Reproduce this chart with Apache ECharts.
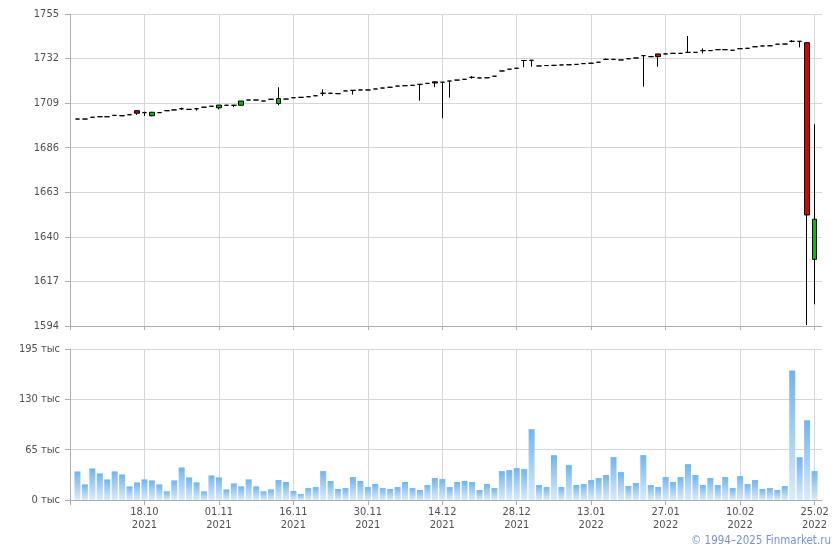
<!DOCTYPE html>
<html><head><meta charset="utf-8">
<script src="https://cdn.jsdelivr.net/npm/echarts@6/dist/echarts.min.js"></script>
<style>html,body{margin:0;padding:0;background:#fff}#c{width:840px;height:550px}</style>
</head><body><div id="c"></div>
<script>
// ---- data ----
const dates = [
 '05.10.2021','06.10.2021','07.10.2021','08.10.2021','11.10.2021','12.10.2021','13.10.2021','14.10.2021','15.10.2021','18.10.2021',
 '19.10.2021','20.10.2021','21.10.2021','22.10.2021','25.10.2021','26.10.2021','27.10.2021','28.10.2021','29.10.2021','01.11.2021',
 '02.11.2021','03.11.2021','05.11.2021','08.11.2021','09.11.2021','10.11.2021','11.11.2021','12.11.2021','15.11.2021','16.11.2021',
 '17.11.2021','18.11.2021','19.11.2021','22.11.2021','23.11.2021','24.11.2021','25.11.2021','26.11.2021','29.11.2021','30.11.2021',
 '01.12.2021','02.12.2021','03.12.2021','06.12.2021','07.12.2021','08.12.2021','09.12.2021','10.12.2021','13.12.2021','14.12.2021',
 '15.12.2021','16.12.2021','17.12.2021','20.12.2021','21.12.2021','22.12.2021','23.12.2021','24.12.2021','27.12.2021','28.12.2021',
 '29.12.2021','30.12.2021','03.01.2022','04.01.2022','05.01.2022','06.01.2022','10.01.2022','11.01.2022','12.01.2022','13.01.2022',
 '14.01.2022','17.01.2022','18.01.2022','19.01.2022','20.01.2022','21.01.2022','24.01.2022','25.01.2022','26.01.2022','27.01.2022',
 '28.01.2022','31.01.2022','01.02.2022','02.02.2022','03.02.2022','04.02.2022','07.02.2022','08.02.2022','09.02.2022','10.02.2022',
 '11.02.2022','14.02.2022','15.02.2022','16.02.2022','17.02.2022','18.02.2022','21.02.2022','22.02.2022','24.02.2022','25.02.2022'
];
// [open, close, low, high]
const candles = [
 [1700.8,1700.8,1700.8,1700.8],[1700.8,1700.8,1700.8,1700.8],[1701.7,1701.7,1701.7,1701.7],[1702.0,1702.0,1702.0,1702.0],[1702.0,1702.0,1702.0,1702.0],
 [1702.7,1702.7,1702.7,1702.7],[1702.5,1702.5,1702.5,1702.5],[1703.0,1703.0,1703.0,1703.0],[1705.1,1703.8,1703.0,1705.3],[1704.1,1704.1,1702.4,1704.6],
 [1702.5,1704.3,1702.2,1704.5],[1704.1,1704.1,1704.1,1704.1],[1705.1,1705.1,1705.1,1705.1],[1705.5,1705.5,1705.5,1705.5],[1706.1,1706.1,1705.5,1706.7],
 [1705.8,1705.8,1705.8,1705.8],[1706.1,1706.1,1705.1,1706.1],[1706.9,1706.9,1706.9,1706.9],[1707.4,1707.4,1707.4,1707.4],[1706.6,1708.0,1705.8,1708.0],
 [1707.9,1707.9,1707.9,1707.9],[1707.9,1707.9,1706.9,1707.9],[1707.9,1710.1,1707.9,1710.1],[1710.6,1710.6,1710.6,1710.6],[1710.6,1710.6,1710.6,1710.6],
 [1710.1,1710.1,1710.1,1710.1],[1711.0,1711.0,1711.0,1711.0],[1708.8,1711.4,1707.9,1717.2],[1711.1,1711.1,1711.1,1711.1],[1711.8,1711.8,1711.8,1711.8],
 [1712.0,1712.0,1712.0,1712.0],[1712.3,1712.3,1712.3,1712.3],[1712.8,1712.8,1712.8,1712.8],[1714.1,1714.1,1712.7,1716.1],[1714.1,1714.1,1714.1,1714.1],
 [1713.9,1713.9,1713.9,1713.9],[1715.3,1715.3,1715.3,1715.3],[1715.6,1715.6,1713.4,1715.6],[1715.8,1715.8,1715.8,1715.8],[1715.8,1715.8,1715.8,1715.8],
 [1716.3,1716.3,1716.3,1716.3],[1716.8,1716.8,1716.8,1716.8],[1717.2,1717.2,1717.2,1717.2],[1717.8,1717.8,1717.8,1717.8],[1718.0,1718.0,1718.0,1718.0],
 [1718.2,1718.2,1718.2,1718.2],[1718.7,1718.7,1710.3,1718.7],[1719.2,1719.2,1719.2,1719.2],[1720.0,1719.4,1717.2,1720.1],[1719.8,1719.8,1701.2,1719.8],
 [1720.4,1720.4,1711.8,1720.4],[1720.9,1720.9,1720.9,1720.9],[1721.3,1721.3,1721.3,1721.3],[1722.3,1722.3,1721.6,1723.0],[1722.0,1722.0,1722.0,1722.0],
 [1722.1,1722.1,1722.1,1722.1],[1722.9,1722.9,1722.9,1722.9],[1725.6,1725.6,1725.6,1725.6],[1726.5,1726.5,1726.5,1726.5],[1727.0,1727.0,1727.0,1727.0],
 [1731.0,1731.0,1727.5,1731.0],[1731.1,1731.1,1727.8,1731.1],[1728.2,1728.2,1728.2,1728.2],[1728.4,1728.4,1728.4,1728.4],[1728.5,1728.5,1728.5,1728.5],
 [1728.7,1728.7,1728.7,1728.7],[1728.8,1728.8,1728.8,1728.8],[1729.0,1729.0,1729.0,1729.0],[1729.4,1729.4,1729.4,1729.4],[1729.6,1729.6,1729.6,1729.6],
 [1730.1,1730.1,1730.1,1730.1],[1731.6,1731.6,1731.3,1732.0],[1731.6,1731.6,1731.6,1731.6],[1731.3,1731.3,1731.3,1731.3],[1731.9,1731.9,1731.9,1731.9],
 [1732.3,1732.3,1732.3,1732.3],[1733.5,1733.5,1717.5,1733.5],[1733.0,1733.0,1733.0,1733.0],[1734.4,1733.0,1727.8,1734.4],[1734.4,1734.4,1734.4,1734.4],
 [1734.7,1734.7,1734.7,1734.7],[1734.7,1734.7,1734.7,1734.7],[1735.2,1735.2,1735.2,1743.6],[1735.2,1735.2,1735.2,1735.2],[1736.1,1736.1,1734.7,1737.3],
 [1736.1,1736.1,1736.1,1736.1],[1736.6,1736.6,1736.6,1736.6],[1736.6,1736.6,1736.6,1736.6],[1736.3,1736.3,1736.3,1736.3],[1737.1,1737.1,1737.1,1737.1],
 [1737.3,1737.3,1737.3,1737.3],[1738.1,1738.1,1738.1,1738.1],[1738.5,1738.5,1738.5,1738.5],[1738.6,1738.6,1738.6,1738.6],[1739.4,1739.4,1739.4,1739.4],
 [1739.5,1739.5,1739.5,1739.5],[1740.9,1740.9,1740.4,1741.6],[1740.9,1740.9,1737.8,1740.9],[1740.2,1651.3,1594.5,1740.3],[1628.4,1649.1,1605.2,1698.1]
];
// volume, thousands
const volumes = [
 36.9,20.2,40.8,34.3,26.6,36.9,33.0,17.6,22.7,26.6,
 25.3,20.2,11.2,25.3,42.0,29.2,22.7,11.2,31.7,29.2,
 13.7,21.4,17.6,26.6,17.6,11.2,13.7,25.7,23.2,11.6,
 7.7,15.4,16.7,37.3,24.5,14.2,15.4,29.6,24.5,16.7,
 20.6,15.4,14.2,16.7,23.2,15.4,12.9,19.3,28.3,27.0,
 16.7,23.2,24.5,23.2,12.9,20.6,15.4,37.3,38.6,41.2,
 39.9,91.4,19.3,16.7,57.9,16.7,45.0,19.3,20.6,25.7,
 28.3,32.2,55.3,36.0,18.0,21.9,57.9,19.3,16.7,29.6,
 23.2,29.6,46.3,32.2,19.3,28.3,19.3,29.6,15.4,30.9,
 20.6,25.7,14.2,15.4,12.9,18.0,167.3,55.3,103.0,37.3
];
const priceTicks = [1594,1617,1640,1663,1686,1709,1732,1755];
const volumeTicks = [0,65,130,195];
const volumeUnit = ' тыс';
const footerText = '© 1994–2025 Finmarket.ru';

// ---- chart ----
const FONT = '"DejaVu Sans Condensed", "DejaVu Sans", sans-serif';
const AXIS_C = '#a9aeb5';
const GRID_C = '#d3d7db';
const LABEL_C = '#505050';

const cats = [''].concat(dates, ['']);
const candleData = [['-','-','-','-']].concat(candles);
const volumeData = ['-'].concat(volumes);
const isLabelIdx = (i) => i > 0 && i <= dates.length && (i - 1) % 10 === 9;
const isTickIdx = (i) => i === 0 || isLabelIdx(i);

const chart = echarts.init(document.getElementById('c'), null, {renderer: 'canvas'});
chart.setOption({
  animation: false,
  backgroundColor: '#fff',
  grid: [
    {left: 70, right: 18, top: 14, height: 312},
    {left: 70, right: 18, top: 349, height: 151}
  ],
  xAxis: [
    {
      type: 'category', gridIndex: 0, data: cats, boundaryGap: false,
      axisLine: {lineStyle: {color: AXIS_C}},
      axisTick: {show: true, interval: isTickIdx, length: 4, lineStyle: {color: AXIS_C}},
      axisLabel: {show: false},
      splitLine: {show: true, interval: isLabelIdx, lineStyle: {color: GRID_C, width: 1}}
    },
    {
      type: 'category', gridIndex: 1, data: cats, boundaryGap: false,
      axisLine: {lineStyle: {color: AXIS_C}},
      axisTick: {show: true, interval: isTickIdx, length: 5, lineStyle: {color: AXIS_C}},
      axisLabel: {
        interval: isLabelIdx, color: LABEL_C, fontFamily: FONT, fontSize: 11, lineHeight: 13, margin: 6,
        formatter: (s) => s ? s.slice(0, 5) + '\n' + s.slice(6) : ''
      },
      splitLine: {show: true, interval: isLabelIdx, lineStyle: {color: GRID_C, width: 1}}
    }
  ],
  yAxis: [
    {
      type: 'value', gridIndex: 0, min: priceTicks[0], max: priceTicks[priceTicks.length - 1],
      axisLine: {show: true, lineStyle: {color: AXIS_C}},
      axisTick: {show: true, length: 5, customValues: priceTicks, lineStyle: {color: AXIS_C}},
      axisLabel: {customValues: priceTicks, color: LABEL_C, fontFamily: FONT, fontSize: 11, margin: 11,
        formatter: (v) => String(v)},
      splitLine: {show: true, lineStyle: {color: GRID_C}}
    },
    {
      type: 'value', gridIndex: 1, min: volumeTicks[0], max: volumeTicks[volumeTicks.length - 1],
      axisLine: {show: true, lineStyle: {color: AXIS_C}},
      axisTick: {show: true, length: 5, customValues: volumeTicks, lineStyle: {color: AXIS_C}},
      axisLabel: {customValues: volumeTicks, color: LABEL_C, fontFamily: FONT, fontSize: 11, margin: 10,
        formatter: (v) => v + volumeUnit},
      splitLine: {show: true, lineStyle: {color: GRID_C}}
    }
  ],
  series: [
    {
      type: 'candlestick', xAxisIndex: 0, yAxisIndex: 0, data: candleData, barWidth: 5,
      itemStyle: {color: '#00c000', color0: '#dd0000', borderColor: '#000', borderColor0: '#000',
        borderColorDoji: '#000', borderWidth: 1}
    },
    {
      type: 'bar', xAxisIndex: 1, yAxisIndex: 1, data: volumeData, barWidth: 6,
      itemStyle: {color: new echarts.graphic.LinearGradient(0, 0, 0, 1, [
        {offset: 0, color: '#70b4ef'}, {offset: 1, color: '#dbebfa'}
      ])}
    }
  ],
  graphic: [
    {type: 'text', right: 9, top: 535,
     style: {text: footerText, fill: '#7392e0', font: '11.5px ' + FONT}}
  ]
});
</script>
</body></html>
